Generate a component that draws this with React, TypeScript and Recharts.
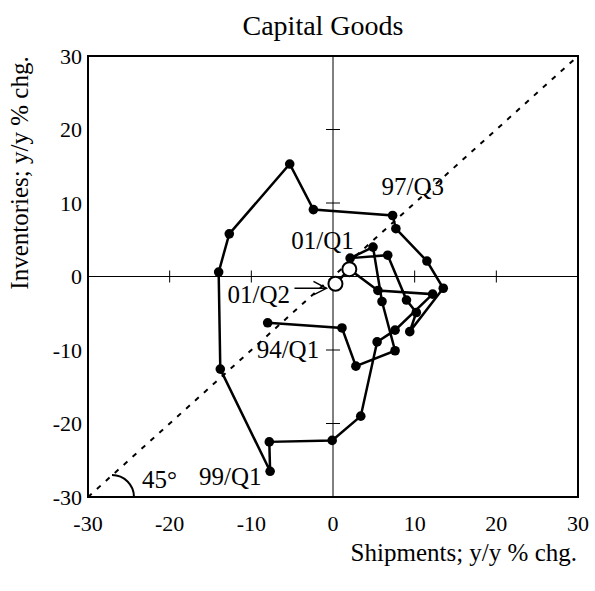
import React from 'react';
import {
  ScatterChart,
  Scatter,
  XAxis,
  YAxis,
  ReferenceLine,
  ReferenceDot,
  ReferenceArea,
} from 'recharts';

// ---- data ----
const quarters = [
  '94/Q1', '94/Q2', '94/Q3', '94/Q4',
  '95/Q1', '95/Q2', '95/Q3', '95/Q4',
  '96/Q1', '96/Q2', '96/Q3', '96/Q4',
  '97/Q1', '97/Q2', '97/Q3', '97/Q4',
  '98/Q1', '98/Q2', '98/Q3', '98/Q4',
  '99/Q1', '99/Q2', '99/Q3', '99/Q4',
  '00/Q1', '00/Q2', '00/Q3', '00/Q4',
  '01/Q1', '01/Q2',
];
const shipments = [
  -8.0, 1.1, 2.8, 7.6,
  6.0, 4.9, 2.1, 6.7,
  9.0, 10.2, 9.4, 13.5,
  11.5, 7.7, 7.3, -2.4,
  -5.3, -12.7, -14.0, -13.8,
  -7.7, -7.8, -0.1, 3.4,
  5.4, 7.6, 12.2, 5.5,
  2.0, 0.3,
];
const inventories = [
  -6.3, -7.0, -12.2, -10.1,
  -3.4, 4.0, 2.5, 2.9,
  -3.2, -4.9, -7.5, -1.6,
  2.1, 6.5, 8.3, 9.1,
  15.3, 5.8, 0.6, -12.6,
  -26.5, -22.5, -22.3, -19.0,
  -8.9, -7.3, -2.4, -1.9,
  1.0, -1.0,
];
const openQuarters = ['01/Q1', '01/Q2'];
const labelledQuarters = ['94/Q1', '97/Q3', '99/Q1', '01/Q1', '01/Q2'];
const axisTicks = [-30, -20, -10, 0, 10, 20, 30];
const crossTicks = [-20, -10, 10, 20];
const axisRange = [-30, 30];
const chartTitle = 'Capital Goods';
const xTitle = 'Shipments; y/y % chg.';
const yTitle = 'Inventories; y/y % chg.';
const angleLabel = '45°';

const points = quarters.map((q, i) => ({ q, x: shipments[i], y: inventories[i] }));

// ---- styles ----
const FONT = '"Liberation Serif", "Times New Roman", serif';
const W = 595;
const H = 591;

// label offsets relative to the labelled point (pixels)
const labelOffsets: Record<string, { dx: number; dy: number }> = {
  '94/Q1': { dx: -11, dy: 35 },
  '97/Q3': { dx: -11, dy: -20 },
  '99/Q1': { dx: -71, dy: 14 },
  '01/Q1': { dx: -58, dy: -20 },
  '01/Q2': { dx: -108, dy: 19 },
};

const PointShape = (props: any) => {
  const { cx, cy, payload } = props;
  if (cx == null || cy == null) return <g />;
  if (openQuarters.includes(payload?.q)) {
    return <circle cx={cx} cy={cy} r={7} fill="#fff" stroke="#000" strokeWidth={2} />;
  }
  return <circle cx={cx} cy={cy} r={4.8} fill="#000" />;
};

const makeLabelShape = (text: string) => (props: any) => {
  const { cx, cy } = props;
  const off = labelOffsets[text];
  const els: any[] = [
    <text
      key="t"
      x={cx + off.dx}
      y={cy + off.dy}
      fontFamily={FONT}
      fontSize={25}
      fill="#000"
    >
      {text}
    </text>,
  ];
  if (text === '01/Q2') {
    els.push(
      <line key="s" x1={cx - 41} y1={cy + 4.5} x2={cx - 9} y2={cy + 4.5} stroke="#000" strokeWidth={1.5} />,
      <polyline
        key="h"
        points={`${cx - 22},${cy - 2.5} ${cx - 9},${cy + 4.5} ${cx - 22},${cy + 11}`}
        fill="none"
        stroke="#000"
        strokeWidth={1.5}
      />
    );
  }
  return <g>{els}</g>;
};

const AngleShape = (props: any) => {
  const { cx, cy } = props;
  const c = cx + 24;
  const r = 22;
  return (
    <g>
      <path d={`M ${c} ${cy - r} A ${r} ${r} 0 0 1 ${c + r} ${cy}`} fill="none" stroke="#000" strokeWidth={2} />
      <text x={cx + 54} y={cy - 9} fontFamily={FONT} fontSize={25} fill="#000">
        {angleLabel}
      </text>
    </g>
  );
};

const XTickShape = (props: any) => {
  const { cx, cy } = props;
  return <line x1={cx} y1={cy - 6} x2={cx} y2={cy + 6} stroke="#000" strokeWidth={1} />;
};
const YTickShape = (props: any) => {
  const { cx, cy } = props;
  return <line x1={cx - 7} y1={cy} x2={cx + 7} y2={cy} stroke="#000" strokeWidth={1} />;
};

export default function App() {
  return (
    <div style={{ position: 'absolute', left: 0, top: 0, width: W, height: H, background: '#fff' }}>
      <ScatterChart
        width={W}
        height={H}
        margin={{ top: 56, right: 17, bottom: 54, left: 28 }}
      >
        <XAxis
          type="number"
          dataKey="x"
          domain={axisRange}
          ticks={axisTicks}
          interval={0}
          axisLine={false}
          tickLine={false}
          tickMargin={12}
          height={40}
          tick={{ fontFamily: FONT, fontSize: 22, fill: '#000' }}
          allowDataOverflow
        />
        <YAxis
          type="number"
          dataKey="y"
          domain={axisRange}
          ticks={axisTicks}
          interval={0}
          axisLine={false}
          tickLine={false}
          tickMargin={0}
          width={60}
          tick={{ fontFamily: FONT, fontSize: 22, fill: '#000' }}
          allowDataOverflow
        />
        <ReferenceArea
          x1={axisRange[0]}
          x2={axisRange[1]}
          y1={axisRange[0]}
          y2={axisRange[1]}
          fill="none"
          fillOpacity={0}
          stroke="#000"
          strokeWidth={2}
          ifOverflow="visible"
        />
        <ReferenceLine x={0} stroke="#000" strokeWidth={1} />
        <ReferenceLine y={0} stroke="#000" strokeWidth={1} />
        {crossTicks.map((v) => (
          <ReferenceDot key={'xt' + v} x={v} y={0} r={0} shape={XTickShape} />
        ))}
        {crossTicks.map((v) => (
          <ReferenceDot key={'yt' + v} x={0} y={v} r={0} shape={YTickShape} />
        ))}
        <ReferenceLine
          segment={[
            { x: axisRange[0], y: axisRange[0] },
            { x: axisRange[1], y: axisRange[1] },
          ]}
          stroke="#000"
          strokeWidth={2}
          strokeDasharray="5 7"
        />
        <ReferenceDot x={axisRange[0]} y={axisRange[0]} r={0} shape={AngleShape} ifOverflow="visible" />
        <Scatter
          data={points}
          fill="#000"
          line={{ stroke: '#000', strokeWidth: 2.5 }}
          lineType="joint"
          shape={PointShape}
          isAnimationActive={false}
        />
        {labelledQuarters.map((q) => {
          const i = quarters.indexOf(q);
          return (
            <ReferenceDot
              key={'lbl' + q}
              x={shipments[i]}
              y={inventories[i]}
              r={0}
              shape={makeLabelShape(q)}
              ifOverflow="visible"
            />
          );
        })}
      </ScatterChart>
      <svg
        width={W}
        height={H}
        style={{ position: 'absolute', left: 0, top: 0, pointerEvents: 'none' }}
      >
        <text x={323} y={35} textAnchor="middle" fontFamily={FONT} fontSize={28} fill="#000">
          {chartTitle}
        </text>
        <text x={577} y={561} textAnchor="end" fontFamily={FONT} fontSize={25} fill="#000">
          {xTitle}
        </text>
        <text
          x={0}
          y={0}
          transform="translate(28,173) rotate(-90)"
          textAnchor="middle"
          fontFamily={FONT}
          fontSize={25}
          fill="#000"
        >
          {yTitle}
        </text>
      </svg>
    </div>
  );
}
